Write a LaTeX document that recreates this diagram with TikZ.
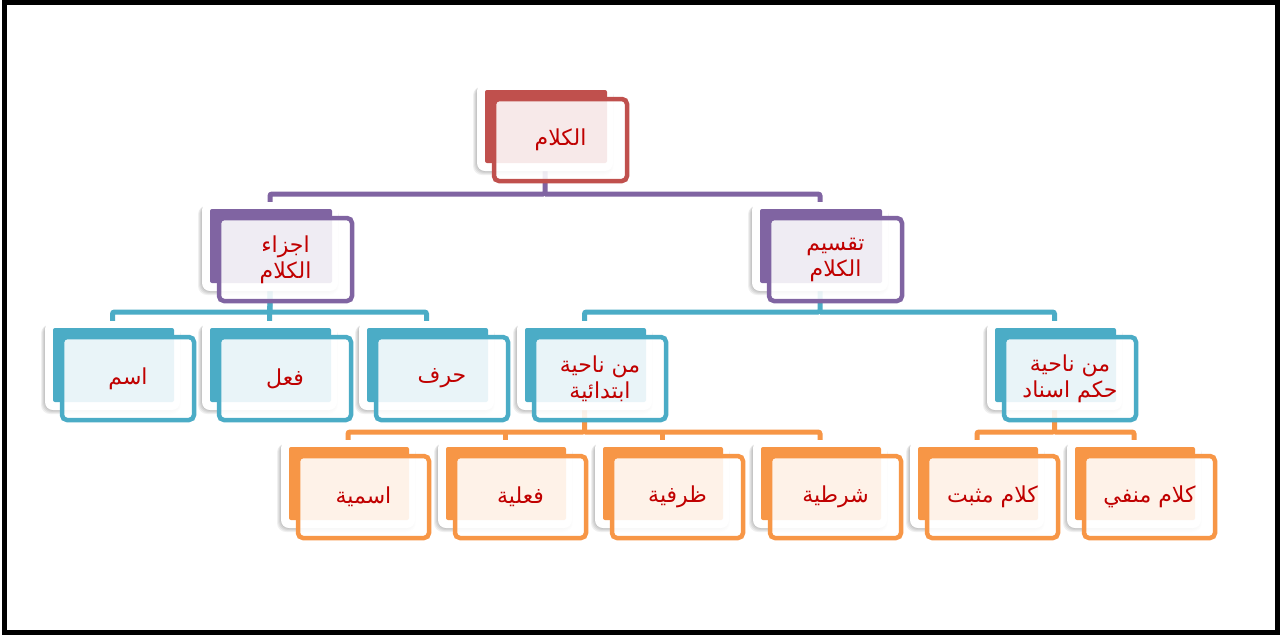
\documentclass[tikz,border=0pt]{standalone}
\usepackage{fontspec}
\newfontfamily\arabicfont[Script=Arabic]{DejaVu Sans}
\TeXXeTstate=1
\usetikzlibrary{calc}
\definecolor{cRed}{HTML}{C0504D}
\definecolor{cPurple}{HTML}{8064A2}
\definecolor{cTeal}{HTML}{4BACC6}
\definecolor{cOrange}{HTML}{F79646}
\definecolor{cText}{HTML}{C00000}
\pgfdeclarelayer{background}
\pgfsetlayers{background,main}
\tikzset{
  plate/.style={fill=white, rounded corners=8pt, inner sep=0pt, outer sep=0pt},
  shad/.style={fill=black, fill opacity=0.06, rounded corners=9pt},
  lbl/.style={text=cText, font=\arabicfont\fontsize{22}{26}\selectfont, align=center, inner sep=0pt},
  conn/.style={line width=5pt, rounded corners=2pt},
}
% name, L, T, W, H, colour, text
\newcommand\boxnode[7]{%
  \foreach \s in {0,1,2,3}{%
    \fill[shad] (#2-9-\s,#3-5+\s*0.5) rectangle (#2+#4+5+\s*0.5,#3+#5+9+\s);
  }
  \node[plate, minimum width={(#4+14)*1pt}, minimum height={(#5+15)*1pt}, anchor=north west] (#1) at (#2-8,#3-7) {};
  \fill[#6, rounded corners=2pt] (#2,#3) rectangle (#2+#4,#3+#5);
  \draw[#6, line width=4.5pt, rounded corners=5pt, fill=white, fill opacity=0.88] (#2+9,#3+9) rectangle (#2+#4+20,#3+#5+18);
  \node[lbl] (#1-t) at (#2+14.5+#4/2, #3+13.5+#5/2) {#7};
}
\begin{document}
\begin{tikzpicture}[x=1pt,y=-1pt]
\useasboundingbox (0,0) rectangle (1284,638);
\begin{pgfonlayer}{background}
\fill[white] (0,0) rectangle (1284,638);
\end{pgfonlayer}
\draw[line width=5.5pt] (4.5,2.5) rectangle (1277.5,632.5);

\boxnode{k}{485}{90}{122}{73}{cRed}{\beginR الكلام\endR}
\boxnode{aj}{210}{209}{122}{74}{cPurple}{\beginR اجزاء\endR\\\beginR الكلام\endR}
\boxnode{tq}{760}{209}{122}{74}{cPurple}{\beginR تقسيم\endR\\\beginR الكلام\endR}
\boxnode{ism}{53}{328}{121}{74}{cTeal}{\beginR اسم\endR}
\boxnode{fil}{210}{328}{121}{74}{cTeal}{\beginR فعل\endR}
\boxnode{harf}{367}{328}{121}{74}{cTeal}{\beginR حرف\endR}
\boxnode{ibt}{525}{328}{121}{74}{cTeal}{\beginR من ناحية\endR\\\beginR ابتدائية\endR}
\boxnode{isn}{995}{328}{121}{74}{cTeal}{\beginR من ناحية\endR\\\beginR حكم اسناد\endR}
\boxnode{ismiya}{289}{447}{120}{73}{cOrange}{\beginR اسمية\endR}
\boxnode{filiya}{446}{447}{120}{73}{cOrange}{\beginR فعلية\endR}
\boxnode{zarf}{603}{447}{120}{73}{cOrange}{\beginR ظرفية\endR}
\boxnode{shart}{761}{447}{120}{73}{cOrange}{\beginR شرطية\endR}
\boxnode{muth}{918}{447}{120}{73}{cOrange}{\beginR كلام مثبت\endR}
\boxnode{manf}{1075}{447}{120}{73}{cOrange}{\beginR كلام منفي\endR}

\coordinate (b1) at (0,194);
\coordinate (b2) at (0,312);
\coordinate (b3) at (0,432);
\begin{pgfonlayer}{background}
\draw[conn, cPurple] (k.south) -- (k.south |- b1) -| (aj.north);
\draw[conn, cPurple] (k.south |- b1) -| (tq.north);
\draw[conn, cTeal] (aj.south) -- (aj.south |- b2) -| (ism.north);
\draw[conn, cTeal] (aj.south |- b2) -| (harf.north);
\draw[conn, cTeal] (aj.south) -- (fil.north);
\draw[conn, cTeal] (tq.south) -- (tq.south |- b2) -| (ibt.north);
\draw[conn, cTeal] (tq.south |- b2) -| (isn.north);
\draw[conn, cOrange] (ibt.south) -- (ibt.south |- b3) -| (ismiya.north);
\draw[conn, cOrange] (ibt.south |- b3) -| (shart.north);
\draw[conn, cOrange] (filiya.north) -- (filiya.north |- b3);
\draw[conn, cOrange] (zarf.north) -- (zarf.north |- b3);
\draw[conn, cOrange] (isn.south) -- (isn.south |- b3) -| (muth.north);
\draw[conn, cOrange] (isn.south |- b3) -| (manf.north);
\end{pgfonlayer}
\end{tikzpicture}
\end{document}
